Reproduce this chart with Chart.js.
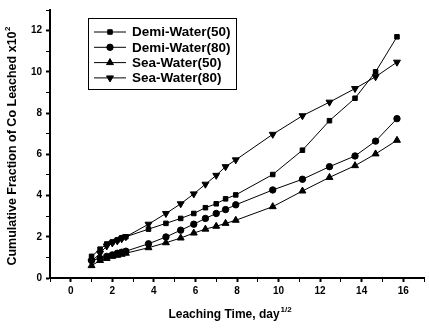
<!DOCTYPE html>
<html>
<head>
<meta charset="utf-8">
<script src="https://cdn.jsdelivr.net/npm/chart.js@4/dist/chart.umd.min.js"></script>
<style>
  html, body { margin: 0; padding: 0; background: #fff; }
  #wrap { width: 429px; height: 330px; }
</style>
</head>
<body>
<div id="wrap"><canvas id="leach"></canvas></div>
<script>
// leaching time, sqrt(day)
var timeRoot = [1, 1.41, 1.73, 2, 2.24, 2.45, 2.65, 3.74, 4.58, 5.29, 5.92, 6.48, 7, 7.45, 7.94, 9.72, 11.15, 12.45, 13.68, 14.67, 15.7];

// cumulative fraction x10^2
var demi50 = [1.05, 1.4, 1.65, 1.75, 1.85, 1.95, 2.0, 2.37, 2.65, 2.89, 3.13, 3.41, 3.6, 3.84, 4.03, 5.02, 6.2, 7.63, 8.72, 10.0, 11.7];
var demi80 = [0.85, 0.95, 1.05, 1.12, 1.2, 1.25, 1.3, 1.66, 1.99, 2.32, 2.61, 2.89, 3.13, 3.32, 3.55, 4.27, 4.79, 5.4, 5.92, 6.64, 7.73];
var sea50 = [0.6, 0.85, 0.95, 1.05, 1.1, 1.15, 1.2, 1.47, 1.71, 1.94, 2.18, 2.37, 2.51, 2.65, 2.8, 3.46, 4.22, 4.88, 5.45, 6.02, 6.68];
var sea80 = [0.8, 1.2, 1.55, 1.7, 1.8, 1.9, 2.0, 2.61, 3.13, 3.6, 4.08, 4.55, 4.98, 5.4, 5.73, 6.97, 7.87, 8.53, 9.19, 9.76, 10.47];

var seriesNames = ["Demi-Water(50)", "Demi-Water(80)", "Sea-Water(50)", "Sea-Water(80)"];
var xTicks = [0, 2, 4, 6, 8, 10, 12, 14, 16];
var yTicks = [0, 2, 4, 6, 8, 10, 12];

var FONT = "Liberation Sans, Arial, sans-serif";

function pts(ys) {
    return timeRoot.map(function (x, i) { return { x: x, y: ys[i] }; });
}

function makeSet(label, ys, style, rot) {
    return {
        label: label,
        data: pts(ys),
        showLine: true,
        borderColor: "#000",
        backgroundColor: "#000",
        borderWidth: 1,
        pointStyle: style,
        rotation: rot || 0,
        pointRadius: style === "triangle" ? 4 : 3.2,
        pointBorderWidth: 1,
    };
}

// legend box + axis titles, drawn by hand so the marker sits on the line
var extras = {
    id: "extras",
    afterDraw: function (chart) {
        var ctx = chart.ctx;
        ctx.save();
        ctx.strokeStyle = "#000";
        ctx.lineWidth = 1;
        ctx.strokeRect(88.5, 18.5, 148, 71);
        var styles = [["rect", 0], ["circle", 0], ["triangle", 0], ["triangle", 180]];
        ctx.font = "bold 13.5px " + FONT;
        ctx.textBaseline = "middle";
        for (var i = 0; i < 4; i++) {
            var y = 32 + i * 15.3;
            ctx.beginPath();
            ctx.moveTo(94, y);
            ctx.lineTo(126, y);
            ctx.stroke();
            ctx.fillStyle = "#000";
            Chart.helpers.drawPoint(ctx, {
                pointStyle: styles[i][0],
                rotation: styles[i][1],
                radius: styles[i][0] === "triangle" ? 4 : 3.2,
                borderWidth: 1,
            }, 110, y);
            ctx.fillText(seriesNames[i], 132, y + 0.5);
        }

        // x title with superscript
        ctx.font = "bold 12px " + FONT;
        ctx.textBaseline = "alphabetic";
        var main = "Leaching Time, day";
        var w = ctx.measureText(main).width;
        var x0 = 229 - (w + 10) / 2;
        ctx.fillText(main, x0, 318);
        ctx.font = "bold 8px " + FONT;
        ctx.fillText("1/2", x0 + w + 1, 312);

        // y title with superscript
        ctx.translate(13, 146);
        ctx.rotate(-Math.PI / 2);
        ctx.font = "bold 12.5px " + FONT;
        ctx.textBaseline = "middle";
        var yMain = "Cumulative Fraction of Co Leached x10";
        var yw = ctx.measureText(yMain).width;
        ctx.fillText(yMain, -(yw + 5) / 2, 0);
        ctx.font = "bold 8px " + FONT;
        ctx.fillText("2", -(yw + 5) / 2 + yw + 0.5, -5);
        ctx.restore();
    },
};

new Chart(document.getElementById("leach").getContext("2d"), {
    type: "scatter",
    data: {
        datasets: [
            makeSet(seriesNames[0], demi50, "rect"),
            makeSet(seriesNames[1], demi80, "circle"),
            makeSet(seriesNames[2], sea50, "triangle"),
            makeSet(seriesNames[3], sea80, "triangle", 180),
        ],
    },
    options: {
        responsive: true,
        maintainAspectRatio: false,
        animation: false,
        layout: { padding: { top: 4, left: 0, right: 0, bottom: 0 } },
        plugins: {
            legend: { display: false },
            tooltip: { enabled: false },
        },
        scales: {
            x: {
                type: "linear",
                min: -1,
                max: 17,
                afterFit: function (s) { s.height = 52; },
                afterBuildTicks: function (s) {
                    var t = [];
                    for (var v = -1; v <= 17; v++) t.push({ value: v });
                    s.ticks = t;
                },
                border: { color: "#000", width: 2 },
                grid: {
                    drawOnChartArea: false,
                    tickLength: 4,
                    tickColor: "#000",
                    tickWidth: function (c) { return c.tick && xTicks.indexOf(c.tick.value) >= 0 ? 2 : 1; },
                },
                ticks: {
                    color: "#000",
                    padding: 3,
                    maxRotation: 0,
                    autoSkip: false,
                    font: { family: FONT, size: 10, weight: "bold" },
                    callback: function (v) { return xTicks.indexOf(v) >= 0 ? v : ""; },
                },
            },
            y: {
                min: 0,
                max: 13,
                afterFit: function (s) { s.width = 50; },
                afterBuildTicks: function (s) {
                    var t = [];
                    for (var v = 0; v <= 13; v++) t.push({ value: v });
                    s.ticks = t;
                },
                border: { color: "#000", width: 2 },
                grid: {
                    drawOnChartArea: false,
                    tickLength: 4,
                    tickColor: "#000",
                    tickWidth: function (c) { return c.tick && yTicks.indexOf(c.tick.value) >= 0 ? 2 : 1; },
                },
                ticks: {
                    color: "#000",
                    padding: 4,
                    autoSkip: false,
                    font: { family: FONT, size: 10, weight: "bold" },
                    callback: function (v) { return yTicks.indexOf(v) >= 0 ? v : ""; },
                },
            },
        },
    },
    plugins: [extras],
});
</script>
</body>
</html>
